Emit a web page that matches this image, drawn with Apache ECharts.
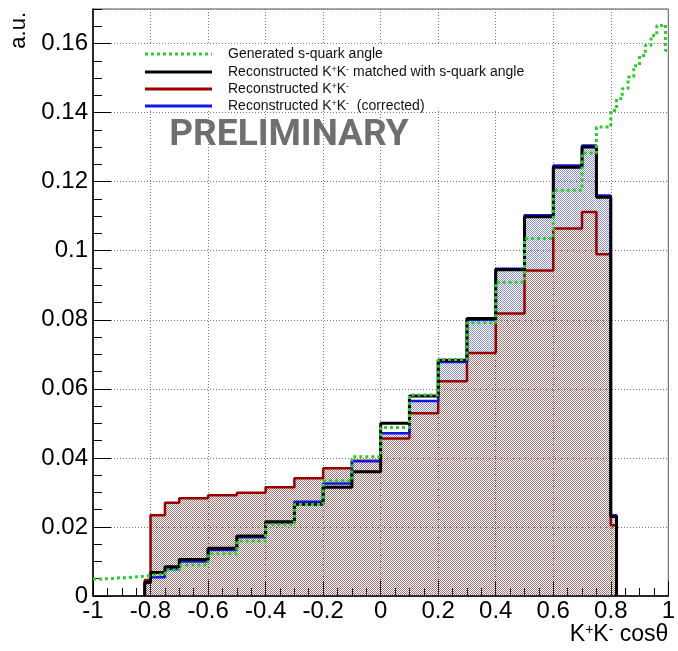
<!DOCTYPE html>
<html><head><meta charset="utf-8">
<script src="https://cdn.jsdelivr.net/npm/echarts@6/dist/echarts.min.js"></script>
<style>html,body{margin:0;padding:0;background:#fff}#c{width:678px;height:651px}</style>
</head><body><div id="c"></div>
<script>
// Reconstructed histograms: bin edges and contents (a.u.)
const binEdges = [-0.82,-0.8,-0.75,-0.7,-0.6,-0.5,-0.4,-0.3,-0.2,-0.1,0,0.1,0.2,0.3,0.4,0.5,0.6,0.7,0.75,0.8,0.82];
const recoRaw       = [0.0046,0.0234,0.0270,0.0283,0.0292,0.0299,0.0315,0.0341,0.0370,0.0392,0.0456,0.0529,0.0622,0.0704,0.0818,0.0943,0.1064,0.1112,0.0990,0.0205];
const recoMatched   = [0.0040,0.0068,0.0085,0.0106,0.0138,0.0174,0.0215,0.0266,0.0315,0.0360,0.0500,0.0579,0.0683,0.0804,0.0945,0.1098,0.1242,0.1300,0.1155,0.0230];
const recoCorrected = [0.0038,0.0054,0.0078,0.0100,0.0133,0.0170,0.0213,0.0273,0.0326,0.0390,0.0471,0.0565,0.0678,0.0800,0.0948,0.1103,0.1247,0.1305,0.1160,0.0234];
// Generated s-quark angle
const genEdges = [-1,-0.98,-0.96,-0.94,-0.92,-0.9,-0.88,-0.86,-0.84,-0.82,-0.8,-0.75,-0.7,-0.6,-0.5,-0.4,-0.3,-0.2,-0.1,0,0.1,0.2,0.3,0.4,0.5,0.6,0.7,0.75,0.8,0.82,0.84,0.86,0.88,0.9,0.92,0.94,0.96,0.98,0.99,1.0];
const genVals  = [0.0049,0.0050,0.0050,0.0052,0.0053,0.0053,0.0055,0.0056,0.0057,0.0060,
                  0.0063,0.0075,0.0090,0.0122,0.0159,0.0206,0.0265,0.0334,0.0403,0.0488,0.0582,0.0685,0.0791,0.0909,0.1035,0.1175,0.1283,0.1358,
                  0.1406,0.1440,0.1469,0.1503,0.1536,0.1565,0.1594,0.1623,0.1652,0.1655,0.1580];
const legendNames = ['Generated s-quark angle','Reconstructed K{sup|+}K{sup|-} matched with s-quark angle','Reconstructed K{sup|+}K{sup|-}','Reconstructed K{sup|+}K{sup|-}  (corrected)'];

const FONT = 'Liberation Sans, Arial, sans-serif';
function stepPoints(edges, vals, close) {
  const pts = [];
  if (close) pts.push([edges[0], 0]);
  for (let i = 0; i < vals.length; i++) pts.push([edges[i], vals[i]]);
  pts.push([edges[edges.length - 1], vals[vals.length - 1]]);
  if (close) pts.push([edges[edges.length - 1], 0]);
  return pts;
}
function pattern(r, g, b, a) {
  const c = document.createElement('canvas'); c.width = 2; c.height = 2;
  const ctx = c.getContext('2d');
  ctx.fillStyle = 'rgba(' + r + ',' + g + ',' + b + ',' + a + ')';
  ctx.fillRect(0, 0, 1, 1); ctx.fillRect(1, 1, 1, 1);
  return { image: c, repeat: 'repeat' };
}
// band between raw and corrected histograms: [x0, x1, low, high]
const bandData = recoCorrected.map((v, i) => [binEdges[i], binEdges[i + 1], recoRaw[i], v]);
const bluePattern = pattern(60, 70, 170, 0.6);

const colGreen = '#2fcc2f', colRed = '#990000', colBlue = '#1414e6', colBlack = '#000000';
const supRich = { sup: { fontSize: 9, verticalAlign: 'top', lineHeight: 9, fontFamily: FONT } };

const legendRows = [
  { y: 54, color: colGreen, dash: [3, 3] },
  { y: 72, color: colBlack, dash: null },
  { y: 89, color: colRed, dash: null },
  { y: 106, color: colBlue, dash: null }
];
const legendGraphics = [{ type: 'rect', shape: { x: 138, y: 45, width: 397, height: 66 }, style: { fill: '#fff' }, z: 50 }];
legendRows.forEach((r, i) => {
  legendGraphics.push({ type: 'line', shape: { x1: 145, y1: r.y, x2: 212, y2: r.y }, style: { stroke: r.color, lineWidth: 3, lineDash: r.dash }, z: 51 });
  legendGraphics.push({ type: 'text', x: 228, y: r.y, style: { text: legendNames[i], font: '14px ' + FONT, fill: '#111', verticalAlign: 'middle', rich: supRich }, z: 51 });
});

const chart = echarts.init(document.getElementById('c'), null, { renderer: 'canvas' });
chart.setOption({
  animation: false,
  backgroundColor: '#fff',
  grid: { left: 93, right: 6, top: 9, bottom: 55, show: true, borderColor: '#555', borderWidth: 1 },
  xAxis: {
    type: 'value', min: -1, max: 1, interval: 0.2,
    name: 'K{sup|+}K{sup|-} cosθ', nameLocation: 'end', nameGap: 0,
    nameTextStyle: { fontSize: 23, fontFamily: FONT, color: '#000', align: 'right', verticalAlign: 'top', padding: [27, 0, 0, 0], rich: { sup: { fontSize: 14, verticalAlign: 'top', lineHeight: 14, fontFamily: FONT } } },
    axisLine: { onZero: false, lineStyle: { color: '#000', width: 1.5 } },
    axisTick: { inside: true, length: 15, lineStyle: { color: '#000', width: 1 } },
    minorTick: { show: true, splitNumber: 4, length: 8, lineStyle: { color: '#000', width: 1 } },
    axisLabel: { fontSize: 24, fontFamily: FONT, color: '#000', margin: 3, formatter: v => String(+v.toFixed(2)) },
    splitLine: { show: true, lineStyle: { color: '#777', type: [1, 2], width: 1 } }
  },
  yAxis: [{
    type: 'value', min: 0, max: 0.17, interval: 0.02,
    axisLine: { show: true, onZero: false, lineStyle: { color: '#000', width: 1.5 } },
    axisTick: { inside: true, length: 18, lineStyle: { color: '#000', width: 1 } },
    axisLabel: { fontSize: 24, fontFamily: FONT, color: '#000', margin: 5, showMaxLabel: false, formatter: v => String(+v.toFixed(3)) },
    splitLine: { show: true, lineStyle: { color: '#777', type: [1, 2], width: 1 } }
  }, {
    type: 'value', min: 0, max: 0.17, interval: 0.005, position: 'left', offset: 0,
    axisLine: { show: false, onZero: false }, axisLabel: { show: false }, splitLine: { show: false },
    axisTick: { show: true, inside: true, length: 9, lineStyle: { color: '#000', width: 1 } }
  }],
  graphic: [
    ...legendGraphics,
    { type: 'text', x: 289, y: 136, style: { text: 'PRELIMINARY', font: 'bold 37px Roboto, ' + FONT, fill: '#6f6f6f', align: 'center', verticalAlign: 'middle' }, z: 60 },
    { type: 'text', x: 19, y: 12, rotation: Math.PI / 2, style: { text: 'a.u.', font: '22px ' + FONT, fill: '#000', align: 'right', verticalAlign: 'middle' }, z: 60 }
  ],
  series: [
    { name: 'corrected excess', type: 'custom', silent: true, data: bandData, encode: { x: [0, 1], y: [2, 3] }, z: 2,
      renderItem: function (params, api) {
        const x0 = api.value(0), x1 = api.value(1), lo = api.value(2), hi = api.value(3);
        if (!(hi > lo)) return null;
        const a = api.coord([x0, hi]), b = api.coord([x1, lo]);
        return { type: 'rect', shape: { x: a[0], y: a[1], width: b[0] - a[0], height: b[1] - a[1] }, style: { fill: bluePattern } };
      } },
    { name: 'Reconstructed K+K-', type: 'line', step: 'end', symbol: 'none', silent: true, data: stepPoints(binEdges, recoRaw, true),
      lineStyle: { color: colRed, width: 2.5 }, areaStyle: { color: pattern(125, 60, 60, 0.7), opacity: 1 }, z: 3 },
    { name: 'Reconstructed K+K- (corrected)', type: 'line', step: 'end', symbol: 'none', silent: true, data: stepPoints(binEdges, recoCorrected, true),
      lineStyle: { color: colBlue, width: 2.5 }, z: 4 },
    { name: 'Reconstructed K+K- matched with s-quark angle', type: 'line', step: 'end', symbol: 'none', silent: true, data: stepPoints(binEdges, recoMatched, true),
      lineStyle: { color: colBlack, width: 3 }, z: 5 },
    { name: 'Generated s-quark angle', type: 'line', step: 'end', symbol: 'none', silent: true, data: stepPoints(genEdges, genVals, false),
      lineStyle: { color: colGreen, width: 3, type: [3, 3], cap: 'butt' }, z: 6 }
  ]
});
</script>
</body></html>
